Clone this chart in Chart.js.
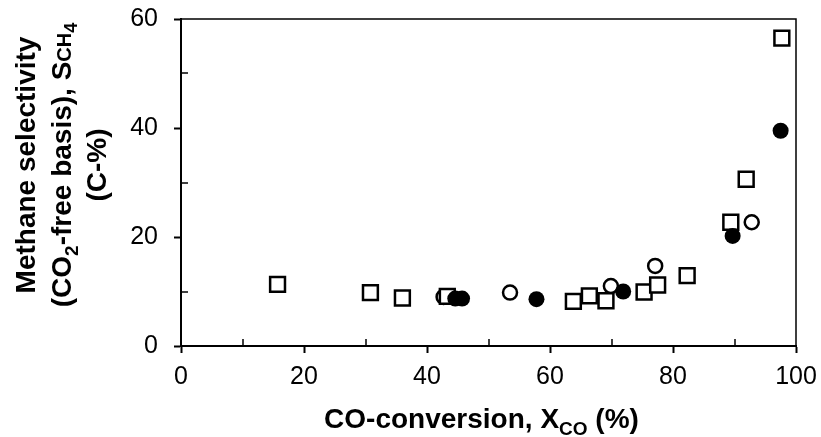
<!DOCTYPE html>
<html>
<head>
<meta charset="utf-8">
<script src="https://cdn.jsdelivr.net/npm/chart.js@4/dist/chart.umd.min.js"></script>
<style>
  html, body { margin: 0; padding: 0; background: #fff; }
  #wrap { width: 821px; height: 437px; }
</style>
</head>
<body>
<div id="wrap"><canvas id="chart"></canvas></div>
<script>
// squares (open)
const squareX = [15.7, 30.8, 36.0, 43.3, 63.8, 66.4, 69.1, 75.3, 77.5, 82.3, 89.4, 91.9, 97.7];
const squareY = [11.3, 9.8, 8.8, 9.1, 8.2, 9.2, 8.3, 9.9, 11.2, 12.9, 22.7, 30.6, 56.5];
// open circles
const openX = [42.7, 53.5, 69.9, 77.1, 92.8];
const openY = [9.0, 9.8, 11.0, 14.7, 22.7];
// filled circles
const fillX = [44.6, 45.7, 57.8, 71.9, 89.7, 97.5];
const fillY = [8.7, 8.7, 8.6, 10.0, 20.2, 39.5];

const xTicks = [0, 20, 40, 60, 80, 100];
const yTicks = [0, 20, 40, 60];

function pts(xs, ys) {
    return xs.map((x, i) => ({ x: x, y: ys[i] }));
}

const FONT = "'Liberation Sans', Arial, sans-serif";

// draw a line of text made of pieces (normal / small / subscript), centred on x
function drawRich(ctx, parts, x, y) {
    let total = 0;
    parts.forEach(p => {
        ctx.font = "bold " + p.size + "px " + FONT;
        total += ctx.measureText(p.t).width;
    });
    let cx = x - total / 2;
    ctx.textAlign = "left";
    ctx.textBaseline = "alphabetic";
    parts.forEach(p => {
        ctx.font = "bold " + p.size + "px " + FONT;
        ctx.fillText(p.t, cx, y + (p.dy || 0));
        cx += ctx.measureText(p.t).width;
    });
}

const decor = {
    id: 'decor',
    afterDraw(chart) {
        const ctx = chart.ctx;
        const a = chart.chartArea;
        const xs = chart.scales.x, ys = chart.scales.y;
        ctx.save();
        ctx.strokeStyle = "#000";

        // top and right frame
        ctx.lineWidth = 1.5;
        ctx.beginPath();
        ctx.moveTo(a.left, a.top);
        ctx.lineTo(a.right, a.top);
        ctx.lineTo(a.right, a.bottom);
        ctx.stroke();

        // minor ticks, inside
        ctx.lineWidth = 1.5;
        ctx.beginPath();
        for (let i = 0; i < xs.ticks.length - 1; i++) {
            const px = Math.round(xs.getPixelForValue((xs.ticks[i].value + xs.ticks[i + 1].value) / 2));
            ctx.moveTo(px, a.bottom);
            ctx.lineTo(px, a.bottom - 7);
        }
        for (let i = 0; i < ys.ticks.length - 1; i++) {
            const py = Math.round(ys.getPixelForValue((ys.ticks[i].value + ys.ticks[i + 1].value) / 2));
            ctx.moveTo(a.left, py);
            ctx.lineTo(a.left + 7, py);
        }
        ctx.stroke();

        // axis titles
        ctx.fillStyle = "#000";
        drawRich(ctx, [
            { t: "CO-conversion, X", size: 28 },
            { t: "CO", size: 19, dy: 7 },
            { t: " (%)", size: 28 }
        ], (a.left + a.right) / 2 - 7, 428);

        ctx.translate(0, 165);
        ctx.rotate(-Math.PI / 2);
        drawRich(ctx, [{ t: "Methane selectivity", size: 28 }], 0, 35);
        drawRich(ctx, [
            { t: "(CO", size: 28 },
            { t: "2", size: 19, dy: 7 },
            { t: "-free basis), S", size: 28 },
            { t: "CH", size: 20 },
            { t: "4", size: 18, dy: 6 }
        ], 0, 71);
        drawRich(ctx, [{ t: "(C-%)", size: 28 }], 0, 106);
        ctx.restore();
    }
};

new Chart(document.getElementById("chart"), {
    type: 'scatter',
    data: {
        datasets: [
            {
                label: "filled",
                data: pts(fillX, fillY),
                pointStyle: 'circle',
                pointRadius: 8,
                pointBorderWidth: 0,
                backgroundColor: "#000",
                borderColor: "#000",
                order: 0
            },
            {
                label: "squares",
                data: pts(squareX, squareY),
                pointStyle: 'rect',
                pointRadius: 10.5,
                pointBorderWidth: 2.5,
                backgroundColor: "#fff",
                borderColor: "#000",
                order: 1
            },
            {
                label: "open",
                data: pts(openX, openY),
                pointStyle: 'circle',
                pointRadius: 7,
                pointBorderWidth: 2.5,
                backgroundColor: "#fff",
                borderColor: "#000",
                order: 2
            }
        ]
    },
    options: {
        responsive: true,
        maintainAspectRatio: false,
        animation: false,
        layout: { padding: { top: 19, right: 25, left: 0, bottom: 0 } },
        plugins: {
            legend: { display: false },
            tooltip: { enabled: false }
        },
        scales: {
            x: {
                type: 'linear',
                min: 0, max: 100,
                afterFit: s => { s.height = 91; s.paddingLeft = 0; s.paddingRight = 0; },
                afterBuildTicks: s => { s.ticks = xTicks.map(v => ({ value: v })); },
                border: { display: true, color: "#000", width: 2 },
                grid: { drawOnChartArea: false, drawTicks: true, tickLength: 7, tickWidth: 2, tickColor: "#000" },
                ticks: { color: "#000", font: { family: FONT, size: 25 }, padding: 9, maxRotation: 0 }
            },
            y: {
                type: 'linear',
                min: 0, max: 60,
                afterFit: s => { s.width = 181; s.paddingTop = 0; s.paddingBottom = 0; },
                afterBuildTicks: s => { s.ticks = yTicks.map(v => ({ value: v })); },
                border: { display: true, color: "#000", width: 2 },
                grid: { drawOnChartArea: false, drawTicks: true, tickLength: 7, tickWidth: 2, tickColor: "#000" },
                ticks: { color: "#000", font: { family: FONT, size: 25 }, padding: 16 }
            }
        }
    },
    plugins: [decor]
});
</script>
</body>
</html>
